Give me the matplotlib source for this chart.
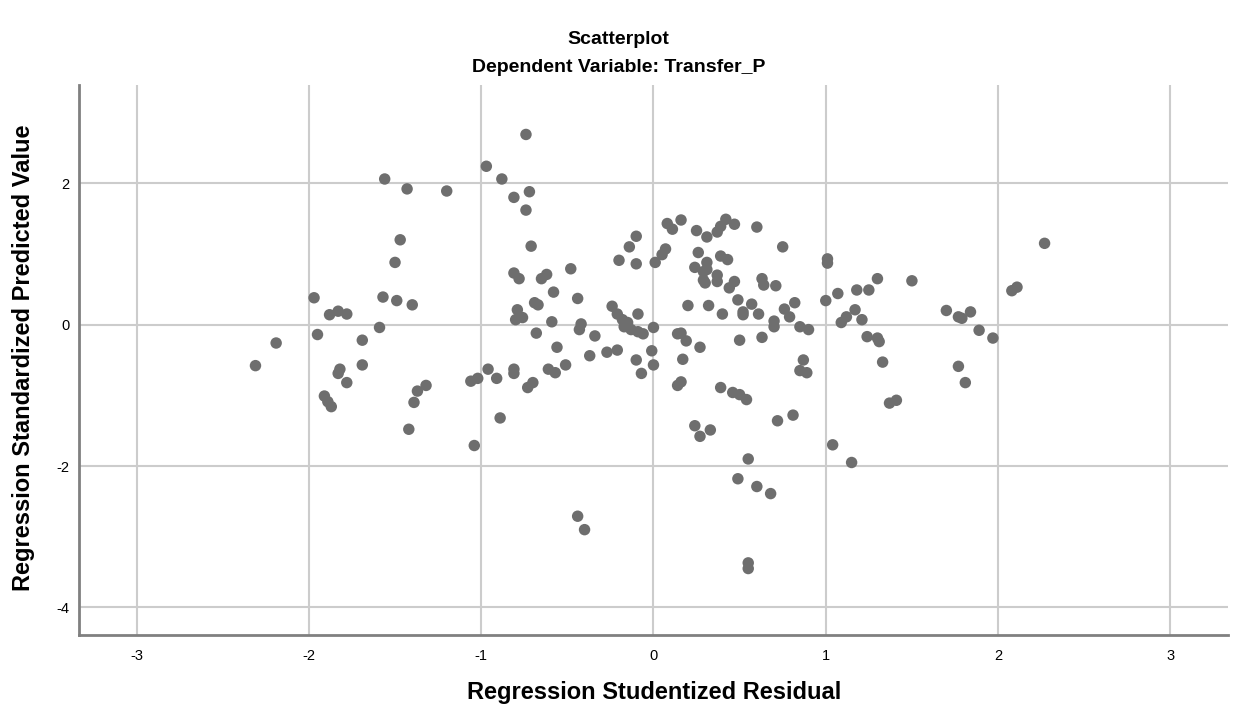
import numpy as np
import matplotlib
matplotlib.use('Agg')
import matplotlib.pyplot as plt

# studentized residual (x) vs standardized predicted value (y)
residual = [
    -1.56, -1.43, -1.20, -1.47, -1.50, -1.97, -1.57, -1.49, -1.40, -1.88,
    -1.83, -1.78, -1.59, -1.95, -2.19, -1.69, -2.31, -1.82, -1.83, -1.69,
    -1.78, -1.91, -1.89, -1.87, -1.32, -1.37, -1.39, -1.42,
    -0.74, -0.97, -0.88, -0.81, -0.72, -0.74, -0.71, -0.20, -0.14, -0.81,
    -0.78, -0.65, -0.62, -0.48, -0.58, -0.44, -0.69, -0.67, -0.79, -0.80,
    -0.76, -0.59, -0.42, -0.43, -0.68, -0.34, -0.24, -0.21, -0.18, -0.17,
    -0.15, -0.56, -0.37, -0.27, -0.21, -0.96, -1.06, -1.02, -0.91, -0.81,
    -0.81, -0.73, -0.70, -0.61, -0.57, -0.51, -0.89, -1.04, -0.44, -0.40,
    0.08, 0.11, 0.16, 0.25, 0.31, 0.37, 0.39, 0.42, 0.47, 0.60,
    0.75, -0.10, -0.10, 0.01, 0.05, 0.07, 0.26, 0.31, 0.39, 0.43,
    0.24, 0.29, 0.31, 0.29, 0.30, 0.37, 0.37, 0.44, 0.47, 0.63,
    0.64, 0.71, 0.20, 0.32, 0.49, 0.57, 0.52, 0.52, 0.40, 0.61,
    0.76, 0.70, 0.70, -0.13, -0.09, -0.06, -0.09, 0.00, 0.14, 0.16,
    0.19, 0.27, 0.50, 0.63, -0.10, -0.07, -0.01, 0.00, 0.17, 0.14,
    0.16, 0.39, 0.46, 0.50, 0.54, 0.72, 0.24, 0.27, 0.33, 0.55,
    0.49, 0.60, 0.68, 0.55, 0.55,
    1.01, 1.01, 1.30, 1.50, 1.07, 1.18, 1.25, 1.00, 0.82, 0.79,
    0.85, 0.90, 1.09, 1.12, 1.17, 1.21, 1.24, 1.30, 1.31, 0.87,
    0.85, 0.89, 1.33, 1.37, 1.41, 0.81, 1.04, 1.15,
    2.27, 2.08, 2.11, 1.70, 1.77, 1.79, 1.84, 1.89, 1.97, 1.77, 1.81,
]
predicted = [
    2.06, 1.92, 1.89, 1.20, 0.88, 0.38, 0.39, 0.34, 0.28, 0.14,
    0.19, 0.15, -0.04, -0.14, -0.26, -0.22, -0.58, -0.63, -0.69, -0.57,
    -0.82, -1.01, -1.09, -1.16, -0.86, -0.94, -1.10, -1.48,
    2.69, 2.24, 2.06, 1.80, 1.88, 1.62, 1.11, 0.91, 1.10, 0.73,
    0.65, 0.65, 0.71, 0.79, 0.46, 0.37, 0.31, 0.28, 0.21, 0.07,
    0.10, 0.04, 0.01, -0.07, -0.12, -0.16, 0.26, 0.15, 0.07, -0.03,
    0.03, -0.32, -0.44, -0.39, -0.36, -0.63, -0.80, -0.76, -0.76, -0.63,
    -0.69, -0.89, -0.82, -0.63, -0.68, -0.57, -1.32, -1.71, -2.71, -2.90,
    1.43, 1.35, 1.48, 1.33, 1.24, 1.31, 1.39, 1.49, 1.42, 1.38,
    1.10, 1.25, 0.86, 0.88, 0.99, 1.07, 1.02, 0.88, 0.97, 0.92,
    0.81, 0.75, 0.78, 0.63, 0.59, 0.70, 0.61, 0.52, 0.61, 0.65,
    0.56, 0.55, 0.27, 0.27, 0.35, 0.29, 0.18, 0.14, 0.15, 0.15,
    0.22, 0.05, -0.03, -0.07, -0.10, -0.13, 0.15, -0.04, -0.13, -0.12,
    -0.23, -0.32, -0.22, -0.18, -0.50, -0.69, -0.37, -0.57, -0.49, -0.86,
    -0.81, -0.89, -0.96, -0.99, -1.06, -1.36, -1.43, -1.58, -1.49, -1.90,
    -2.18, -2.29, -2.39, -3.37, -3.45,
    0.93, 0.87, 0.65, 0.62, 0.44, 0.49, 0.49, 0.34, 0.31, 0.11,
    -0.03, -0.07, 0.03, 0.11, 0.21, 0.07, -0.17, -0.19, -0.24, -0.50,
    -0.65, -0.68, -0.53, -1.11, -1.07, -1.28, -1.70, -1.95,
    1.15, 0.48, 0.53, 0.20, 0.11, 0.09, 0.18, -0.08, -0.19, -0.59, -0.82,
]

x_ticks = [-3, -2, -1, 0, 1, 2, 3]
y_ticks = [-4, -2, 0, 2]

plt.rcParams['font.family'] = ['Liberation Sans', 'DejaVu Sans']
plt.rcParams['axes.unicode_minus'] = False

fig = plt.figure(figsize=(12.37, 7.11), dpi=100)
ax = fig.add_axes([0.0639, 0.1069, 0.9286, 0.7736])

ax.scatter(residual, predicted, s=68, color='#6e6e6e', edgecolors='none', zorder=3)

ax.set_xlim(-3.334, 3.333)
ax.set_ylim(-4.39, 3.39)
ax.set_xticks(x_ticks)
ax.set_yticks(y_ticks)
ax.grid(True, color='#cccccc', linewidth=1.5, zorder=0)
ax.set_axisbelow(True)

for side in ['top', 'right']:
    ax.spines[side].set_visible(False)
for side in ['left', 'bottom']:
    ax.spines[side].set_color('#808080')
    ax.spines[side].set_linewidth(2)

ax.tick_params(axis='both', length=0, labelsize=10.5, colors='black')
ax.tick_params(axis='x', pad=10)
ax.tick_params(axis='y', pad=7)

# SPSS centres the titles on the whole chart frame
fig.text(0.5, 1 - 40 / 711, 'Scatterplot', ha='center', va='center',
         fontsize=14, fontweight='bold')
fig.text(0.5, 1 - 68 / 711, 'Dependent Variable: Transfer_P', ha='center',
         va='center', fontsize=14, fontweight='bold')
fig.text(0.5286, 1 - 693 / 711, 'Regression Studentized Residual', ha='center',
         va='center', fontsize=17, fontweight='bold')
fig.text(24 / 1237, 1 - 358 / 711, 'Regression Standardized Predicted Value',
         ha='center', va='center', rotation=90, fontsize=17, fontweight='bold')

fig.savefig('out.png', dpi=100)
